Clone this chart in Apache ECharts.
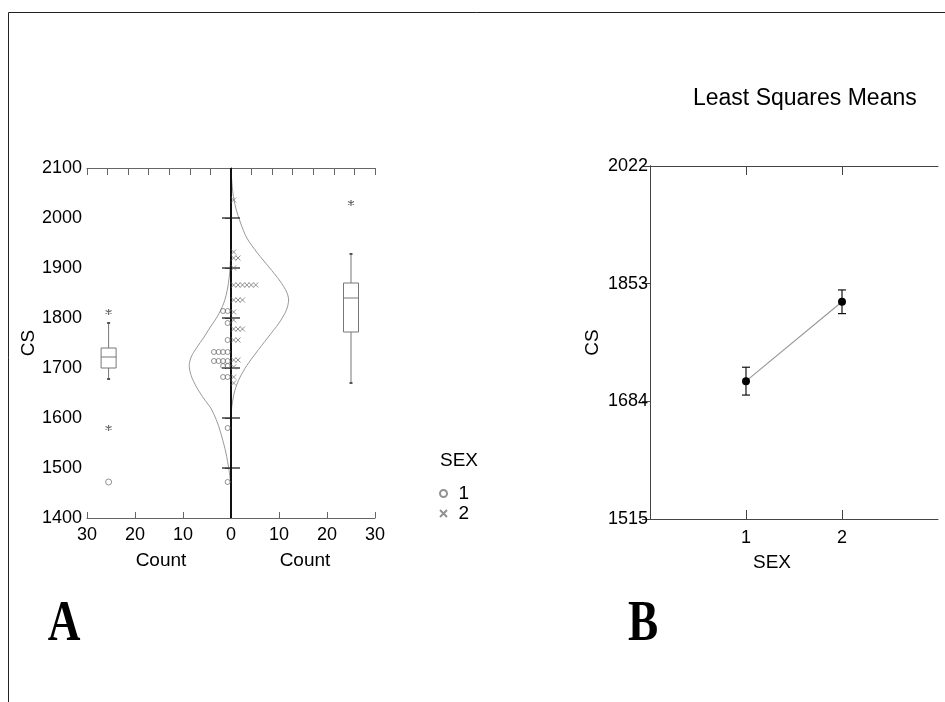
<!DOCTYPE html>
<html><head><meta charset="utf-8">
<script src="https://cdn.jsdelivr.net/npm/echarts@6/dist/echarts.min.js"></script>
<style>html,body{margin:0;padding:0;background:#fff}#c{width:945px;height:702px}</style>
</head><body><div id="c"></div><script>
// ---------- data ----------
const countTicks = [-30, -20, -10, 0, 10, 20, 30];
const csTicksA = [1400, 1500, 1600, 1700, 1800, 1900, 2000, 2100];
const csTicksB = [1515, 1684, 1853, 2022];
const sexCats = [1, 2];
// dot histogram rows: [CS value, number of dots]
const sex1Rows = [[1814, 2], [1790, 1], [1756, 1], [1732, 4], [1714, 4], [1704, 2], [1682, 2], [1580, 1], [1472, 1]];
const sex2Rows = [[2036, 1], [1932, 1], [1920, 2], [1900, 1], [1866, 6], [1836, 3], [1812, 1], [1796, 1], [1778, 3], [1756, 2], [1716, 2], [1702, 1], [1682, 1], [1670, 1]];
// normal curves: [count, CS]
const sex1Curve = [[0, 1960], [-0.2, 1900], [-0.7, 1860], [-1.5, 1830], [-2.9, 1802], [-4.3, 1782], [-5.6, 1762], [-7.2, 1740], [-8.3, 1722], [-8.7, 1705], [-8.3, 1685], [-7.2, 1662], [-5.6, 1638], [-4.1, 1618], [-2.8, 1590], [-1.9, 1562], [-1.1, 1532], [-0.4, 1495], [0, 1460]];
const sex2Curve = [[0, 2095], [0.4, 2050], [1.0, 2020], [2.0, 1990], [3.3, 1960], [5.5, 1930], [7.9, 1902], [10.2, 1874], [11.6, 1852], [12.0, 1836], [11.5, 1815], [10.0, 1790], [7.6, 1760], [5.2, 1730], [3.3, 1705], [1.8, 1680], [0.8, 1655], [0.2, 1625], [0, 1600]];
// box plots: [count position, min, q1, median, q3, max]
const box1 = [-25.5, 1678, 1700, 1722, 1740, 1790];
const box2 = [25, 1670, 1772, 1840, 1870, 1928];
const starOutliers = [[-25.5, 1812], [-25.5, 1580], [25, 2030]];
const circleOutliers = [[-25.5, 1472]];
// least squares means
const lsmMean = [1713, 1827];
const lsmLow = [1693, 1810];
const lsmHigh = [1733, 1844];

// ---------- build ----------
const FONT = "'Liberation Sans Narrow','Liberation Sans',Arial,sans-serif";
const AX = '#666';
const dots1 = [];
sex1Rows.forEach(([v, n]) => { for (let k = 0; k < n; k++) dots1.push([-(k * 0.95 + 0.7), v]); });
const dots2 = [];
sex2Rows.forEach(([v, n]) => { for (let k = 0; k < n; k++) dots2.push([k * 0.92 + 0.55, v]); });

const crossPath = 'path://M0,0L10,10M10,0L0,10';
const starPath = 'path://M5,0L5,10M0.7,2.5L9.3,7.5M0.7,7.5L9.3,2.5';

function boxRender(params, api) {
  const x = api.value(0);
  const pMin = api.coord([x, api.value(1)]);
  const pQ1 = api.coord([x, api.value(2)]);
  const pMed = api.coord([x, api.value(3)]);
  const pQ3 = api.coord([x, api.value(4)]);
  const pMax = api.coord([x, api.value(5)]);
  const hw = 7.5, cx = pMed[0];
  const st = { stroke: '#777', fill: 'none', lineWidth: 1 };
  return { type: 'group', children: [
    { type: 'line', shape: { x1: cx, y1: pMax[1], x2: cx, y2: pQ3[1] }, style: st },
    { type: 'line', shape: { x1: cx, y1: pQ1[1], x2: cx, y2: pMin[1] }, style: st },
    { type: 'rect', shape: { x: cx - hw, y: pQ3[1], width: 2 * hw, height: pQ1[1] - pQ3[1] }, style: st },
    { type: 'line', shape: { x1: cx - hw, y1: pMed[1], x2: cx + hw, y2: pMed[1] }, style: st },
    { type: 'line', shape: { x1: cx - 1.5, y1: pMax[1], x2: cx + 1.5, y2: pMax[1] }, style: { stroke: '#555', lineWidth: 2 } },
    { type: 'line', shape: { x1: cx - 1.5, y1: pMin[1], x2: cx + 1.5, y2: pMin[1] }, style: { stroke: '#555', lineWidth: 2 } }
  ]};
}
function centerTickRender(params, api) {
  const p = api.coord([0, api.value(0)]);
  return { type: 'line', shape: { x1: p[0] - 9, y1: p[1], x2: p[0] + 9, y2: p[1] }, style: { stroke: '#222', lineWidth: 1.3 } };
}
function errRender(params, api) {
  const x = api.value(0);
  const lo = api.coord([x, api.value(1)]);
  const hi = api.coord([x, api.value(2)]);
  const st = { stroke: '#111', lineWidth: 1.2 };
  return { type: 'group', children: [
    { type: 'line', shape: { x1: lo[0], y1: lo[1], x2: hi[0], y2: hi[1] }, style: st },
    { type: 'line', shape: { x1: lo[0] - 4, y1: lo[1], x2: lo[0] + 4, y2: lo[1] }, style: st },
    { type: 'line', shape: { x1: hi[0] - 4, y1: hi[1], x2: hi[0] + 4, y2: hi[1] }, style: st }
  ]};
}

const labelStyle = { color: '#000', fontFamily: FONT, fontSize: 18 };
const plain = v => String(v);

const option = {
  animation: false,
  backgroundColor: '#fff',
  textStyle: { fontFamily: FONT },
  title: { text: 'Least Squares Means', left: 688, top: 82, textStyle: { fontFamily: FONT, fontSize: 23, fontWeight: 'normal', color: '#000' } },
  legend: {
    data: ['1', '2'], orient: 'vertical', left: 434, top: 479, itemWidth: 20, itemHeight: 7, itemGap: 1,
    textStyle: { fontFamily: FONT, fontSize: 19, color: '#000' }
  },
  grid: [
    { left: 87, top: 168, width: 288, height: 350, show: false },
    { left: 650, top: 166, width: 288, height: 353, show: false }
  ],
  xAxis: [
    { gridIndex: 0, type: 'value', min: -30, max: 30, interval: 10, position: 'bottom',
      axisLine: { lineStyle: { color: AX } }, axisTick: { inside: true, length: 6, lineStyle: { color: AX } },
      splitLine: { show: false }, axisLabel: Object.assign({ margin: 8, formatter: v => String(Math.abs(v)) }, labelStyle) },
    { gridIndex: 0, type: 'value', min: -7, max: 7, interval: 1, position: 'top',
      axisLine: { lineStyle: { color: AX } }, axisTick: { inside: true, length: 7, lineStyle: { color: AX } },
      splitLine: { show: false }, axisLabel: { show: false } },
    { gridIndex: 1, type: 'value', min: 0, max: 3, interval: 1, position: 'bottom',
      axisLine: { lineStyle: { color: '#444' } }, axisTick: { inside: true, length: 9, customValues: sexCats, lineStyle: { color: '#444' } },
      splitLine: { show: false }, axisLabel: Object.assign({ margin: 10, customValues: sexCats, formatter: plain }, labelStyle) },
    { gridIndex: 1, type: 'value', min: 0, max: 3, interval: 1, position: 'top',
      axisLine: { lineStyle: { color: '#444' } }, axisTick: { inside: true, length: 9, customValues: sexCats, lineStyle: { color: '#444' } },
      splitLine: { show: false }, axisLabel: { show: false } }
  ],
  yAxis: [
    { gridIndex: 0, type: 'value', min: 1400, max: 2100, interval: 100, position: 'left',
      name: 'CS', nameLocation: 'middle', nameGap: 26, nameRotate: 90, nameTextStyle: { fontFamily: FONT, fontSize: 19, color: '#000' },
      axisLine: { lineStyle: { color: AX } }, axisTick: { length: 5, lineStyle: { color: AX } },
      splitLine: { show: false }, axisLabel: Object.assign({ margin: 5, formatter: plain }, labelStyle) },
    { gridIndex: 0, type: 'value', min: 1400, max: 2100, interval: 100, position: 'right',
      axisLine: { lineStyle: { color: AX } }, axisTick: { inside: true, length: 6, lineStyle: { color: AX } },
      splitLine: { show: false }, axisLabel: { show: false } },
    { gridIndex: 1, type: 'value', min: 1515, max: 2022, interval: 169, position: 'left',
      name: 'CS', nameLocation: 'middle', nameGap: 48, nameRotate: 90, nameTextStyle: { fontFamily: FONT, fontSize: 19, color: '#000' },
      axisLine: { lineStyle: { color: '#444' } }, axisTick: { length: 8, lineStyle: { color: '#444' } },
      splitLine: { show: false }, axisLabel: Object.assign({ margin: 2, formatter: plain }, labelStyle) },
    { gridIndex: 1, type: 'value', min: 1515, max: 2022, interval: 169, position: 'right',
      axisLine: { lineStyle: { color: '#444' } }, axisTick: { inside: true, length: 8, lineStyle: { color: '#444' } },
      splitLine: { show: false }, axisLabel: { show: false } }
  ],
  graphic: [
    { type: 'line', shape: { x1: 8.5, y1: 12.5, x2: 945, y2: 12.5 }, style: { stroke: '#222', lineWidth: 1 } },
    { type: 'line', shape: { x1: 8.5, y1: 12.5, x2: 8.5, y2: 702 }, style: { stroke: '#222', lineWidth: 1 } },
    { type: 'text', x: 161, y: 561, style: { text: 'Count', fontFamily: FONT, fontSize: 19, fill: '#000', align: 'center', verticalAlign: 'middle' } },
    { type: 'text', x: 305, y: 561, style: { text: 'Count', fontFamily: FONT, fontSize: 19, fill: '#000', align: 'center', verticalAlign: 'middle' } },
    { type: 'text', x: 772, y: 563, style: { text: 'SEX', fontFamily: FONT, fontSize: 19, fill: '#000', align: 'center', verticalAlign: 'middle' } },
    { type: 'text', x: 459, y: 461, style: { text: 'SEX', fontFamily: FONT, fontSize: 19, fill: '#000', align: 'center', verticalAlign: 'middle' } },
    { type: 'text', x: 64, y: 625, scaleX: 0.78, originX: 0, originY: 0, style: { text: 'A', fontFamily: "'Liberation Serif','Times New Roman',serif", fontWeight: 'bold', fontSize: 58, fill: '#000', align: 'center', verticalAlign: 'middle' } },
    { type: 'text', x: 643, y: 625, scaleX: 0.78, originX: 0, originY: 0, style: { text: 'B', fontFamily: "'Liberation Serif','Times New Roman',serif", fontWeight: 'bold', fontSize: 58, fill: '#000', align: 'center', verticalAlign: 'middle' } }
  ],
  series: [
    { type: 'line', xAxisIndex: 0, yAxisIndex: 0, data: sex1Curve, smooth: 0.3, showSymbol: false, symbol: 'none', lineStyle: { color: '#999', width: 1 }, silent: true, z: 2 },
    { type: 'line', xAxisIndex: 0, yAxisIndex: 0, data: sex2Curve, smooth: 0.3, showSymbol: false, symbol: 'none', lineStyle: { color: '#999', width: 1 }, silent: true, z: 2 },
    { type: 'custom', xAxisIndex: 0, yAxisIndex: 0, data: csTicksA.slice(1, -1).map(v => [v]), encode: { y: 0 }, renderItem: centerTickRender, z: 4,
      markLine: { silent: true, symbol: 'none', label: { show: false }, lineStyle: { color: '#111', width: 2, type: 'solid' }, data: [{ xAxis: 0 }] } },
    { name: '1', type: 'scatter', xAxisIndex: 0, yAxisIndex: 0, data: dots1, symbol: 'circle', symbolSize: 5, itemStyle: { color: 'rgba(0,0,0,0)', borderColor: '#777', borderWidth: 1 }, z: 5 },
    { name: '2', type: 'scatter', xAxisIndex: 0, yAxisIndex: 0, data: dots2, symbol: crossPath, symbolSize: 5, itemStyle: { color: 'rgba(0,0,0,0)', borderColor: '#777', borderWidth: 1 }, z: 5 },
    { type: 'custom', xAxisIndex: 0, yAxisIndex: 0, data: [box1, box2], encode: { x: 0, y: [1, 2, 3, 4, 5] }, renderItem: boxRender, z: 3 },
    { type: 'scatter', xAxisIndex: 0, yAxisIndex: 0, data: starOutliers, symbol: starPath, symbolSize: 6, itemStyle: { color: 'rgba(0,0,0,0)', borderColor: '#444', borderWidth: 1.2 }, z: 5 },
    { type: 'scatter', xAxisIndex: 0, yAxisIndex: 0, data: circleOutliers, symbol: 'circle', symbolSize: 6, itemStyle: { color: 'rgba(0,0,0,0)', borderColor: '#777', borderWidth: 1 }, z: 5 },
    { type: 'line', xAxisIndex: 2, yAxisIndex: 2, data: sexCats.map((s, i) => [s, lsmMean[i]]), symbol: 'circle', symbolSize: 8, itemStyle: { color: '#000' }, lineStyle: { color: '#999', width: 1.2 }, z: 5 },
    { type: 'custom', xAxisIndex: 2, yAxisIndex: 2, data: sexCats.map((s, i) => [s, lsmLow[i], lsmHigh[i]]), encode: { x: 0, y: [1, 2] }, renderItem: errRender, z: 4 }
  ]
};
const chart = echarts.init(document.getElementById('c'), null, { renderer: 'canvas' });
chart.setOption(option);
</script></body></html>
